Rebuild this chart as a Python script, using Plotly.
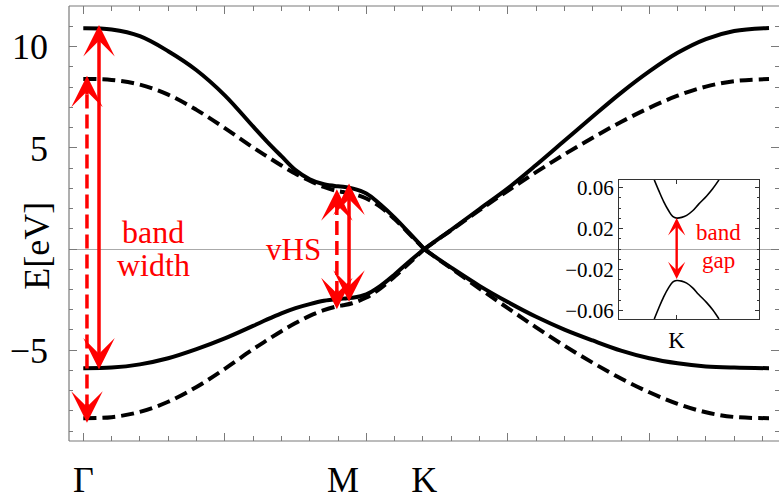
import plotly.graph_objects as go

# ---------------- data ----------------
# path coordinate: Gamma = 0, M = 0.918, K = 1.205, Gamma = 2.423
K_GK = [0, 0.1, 0.2, 0.3, 0.4, 0.5, 0.6, 0.65, 0.7, 0.75, 0.8, 0.85, 0.9, 0.918,
        0.95, 1.0, 1.05, 1.1, 1.15, 1.205]
SOLID_UP_GK = [10.91, 10.85, 10.52, 9.78, 8.84, 7.60, 6.06, 5.30, 4.59, 3.90, 3.45, 3.20,
               3.10, 3.08, 3.00, 2.75, 2.20, 1.55, 0.82, 0.0]
DASH_UP_GK = [8.41, 8.36, 8.13, 7.63, 6.88, 5.98, 5.02, 4.57, 4.13, 3.72, 3.38, 3.07,
              2.86, 2.82, 2.74, 2.50, 2.08, 1.48, 0.78, 0.0]
SOLID_LO_GK = [-5.89, -5.86, -5.70, -5.40, -4.95, -4.42, -3.80, -3.48, -3.18, -2.92, -2.72,
               -2.56, -2.47, -2.45, -2.41, -2.24, -1.82, -1.26, -0.64, 0.0]
DASH_LO_GK = [-8.36, -8.31, -8.05, -7.55, -6.82, -5.92, -4.95, -4.50, -4.06, -3.66, -3.30,
              -3.02, -2.82, -2.78, -2.68, -2.40, -1.94, -1.36, -0.72, 0.0]

K_KG = [1.205, 1.25, 1.3, 1.4, 1.5, 1.6, 1.7, 1.8, 1.9, 2.0, 2.1, 2.2, 2.3, 2.423]
SOLID_UP_KG = [0.0, 0.45, 0.95, 1.98, 3.00, 4.15, 5.35, 6.55, 7.72, 8.78, 9.70, 10.38, 10.78, 10.93]
DASH_UP_KG = [0.0, 0.45, 0.93, 1.92, 2.88, 3.80, 4.68, 5.50, 6.28, 6.98, 7.58, 8.03, 8.30, 8.40]
SOLID_LO_KG = [0.0, -0.45, -0.92, -1.82, -2.62, -3.35, -3.98, -4.52, -5.02, -5.40, -5.65,
               -5.80, -5.86, -5.89]
DASH_LO_KG = [0.0, -0.46, -0.95, -1.95, -2.92, -3.87, -4.78, -5.62, -6.40, -7.08, -7.65,
              -8.07, -8.30, -8.36]

# tick labels of the k path
PATH_TICKS = [0, 0.918, 1.205, 2.423]
PATH_LABELS = ["Γ", "M", "K", "Γ"]
E_TICKS = [-5, 0, 5, 10]
E_LABELS = ["−5", "", "5", "10"]

# inset (zoom around K)
INSET_K = [-0.224, -0.18, -0.13, -0.08, -0.04, 0.0, 0.05, 0.10, 0.16, 0.22, 0.30, 0.36, 0.423]
INSET_UP = [0.0677, 0.0575, 0.0465, 0.0375, 0.0320, 0.0303, 0.0310, 0.0330, 0.0375, 0.0440,
            0.0520, 0.0590, 0.0677]
INSET_LO = [-0.0685, -0.0580, -0.0468, -0.0378, -0.0324, -0.0308, -0.0314, -0.0334, -0.0380,
            -0.0445, -0.0525, -0.0595, -0.0685]
INSET_TICKS = [-0.06, -0.02, 0.02, 0.06]
INSET_LABELS = ["−0.06", "−0.02", "0.02", "0.06"]

# annotation arrows: (k, E_top, E_bottom)
BW_DASHED = (0.013, 8.57, -8.58)
BW_SOLID = (0.0555, 11.08, -6.03)
VHS_DASHED = (0.896, 2.96, -2.97)
VHS_SOLID = (0.939, 3.24, -2.68)
GAP_ARROW = (0.0, 0.0303, -0.0308)

FONT = "Liberation Serif"
RED = "#ff0000"
FRAME = "#7a7a7a"

fig = go.Figure()

def band(x, y, dashed):
    fig.add_trace(go.Scatter(
        x=x, y=y, mode="lines", line_shape="spline",
        line=dict(color="black", width=4, dash="13px,6px" if dashed else "solid"),
        showlegend=False, hoverinfo="skip"))

band(K_GK, DASH_UP_GK, True)
band(K_GK, DASH_LO_GK, True)
band(K_KG, DASH_UP_KG, True)
band(K_KG, DASH_LO_KG, True)
band(K_GK, SOLID_UP_GK, False)
band(K_GK, SOLID_LO_GK, False)
band(K_KG, SOLID_UP_KG, False)
band(K_KG, SOLID_LO_KG, False)

# dashed arrow shafts
for (xk, top, bot) in (BW_DASHED, VHS_DASHED):
    fig.add_trace(go.Scatter(
        x=[xk, xk], y=[bot + 0.7, top - 0.7], mode="lines",
        line=dict(color=RED, width=3.5, dash="14px,6px"),
        showlegend=False, hoverinfo="skip"))

# invisible trace so that the labelled k-path axis is drawn
fig.add_trace(go.Scatter(x=PATH_TICKS, y=[None] * len(PATH_TICKS), mode="markers",
                         xaxis="x2", yaxis="y", showlegend=False, hoverinfo="skip"))

# inset curves
fig.add_trace(go.Scatter(x=INSET_K, y=INSET_UP, mode="lines", line_shape="spline",
                         line=dict(color="black", width=1.6), xaxis="x3", yaxis="y3",
                         showlegend=False, hoverinfo="skip"))
fig.add_trace(go.Scatter(x=INSET_K, y=INSET_LO, mode="lines", line_shape="spline",
                         line=dict(color="black", width=1.6), xaxis="x3", yaxis="y3",
                         showlegend=False, hoverinfo="skip"))

annotations = []
# solid double arrows
for (xk, top, bot) in (BW_SOLID, VHS_SOLID):
    annotations.append(dict(
        x=xk, y=top, ax=xk, ay=bot, xref="x", yref="y", axref="x", ayref="y",
        text="", showarrow=True, arrowside="end+start", arrowhead=3, startarrowhead=3,
        arrowsize=1.5, startarrowsize=1.5, arrowwidth=3.5, arrowcolor=RED))
# heads of dashed arrows
for (xk, top, bot) in (BW_DASHED, VHS_DASHED):
    for tip, tail in ((top, top - 1.0), (bot, bot + 1.0)):
        annotations.append(dict(
            x=xk, y=tip, ax=xk, ay=tail, xref="x", yref="y", axref="x", ayref="y",
            text="", showarrow=True, arrowhead=3, arrowsize=1.5,
            arrowwidth=3.5, arrowcolor=RED))
# inset arrow
annotations.append(dict(
    x=GAP_ARROW[0], y=GAP_ARROW[1], ax=GAP_ARROW[0], ay=GAP_ARROW[2],
    xref="x3", yref="y3", axref="x3", ayref="y3",
    text="", showarrow=True, arrowside="end+start", arrowhead=3, startarrowhead=3,
    arrowsize=1.2, startarrowsize=1.2, arrowwidth=2.4, arrowcolor=RED))

def label(text, x, y, size, xref="x", yref="y", angle=0, color=RED):
    annotations.append(dict(text=text, x=x, y=y, xref=xref, yref=yref, showarrow=False,
                            textangle=angle, xanchor="center", yanchor="middle",
                            font=dict(family=FONT, size=size, color=color)))

label("band", 0.247, 0.85, 32)
label("width", 0.247, -0.80, 32)
label("vHS", 0.742, -0.02, 31)
label("band", 2.245, 0.80, 23)
label("gap", 2.245, -0.58, 23)
label("E[eV]", -0.045, 0.449, 36, xref="paper", yref="paper", angle=-90, color="black")

tickfont = dict(family=FONT, size=36, color="black")

fig.update_layout(
    width=779, height=500,
    margin=dict(l=69, r=0, t=6, b=53),
    paper_bgcolor="white", plot_bgcolor="rgba(0,0,0,0)",
    showlegend=False,
    annotations=annotations,
    xaxis=dict(range=[-0.0505, 2.4583], showgrid=False, zeroline=False,
               showline=False, showticklabels=False,
               tickmode="linear", tick0=0, dtick=0.5, ticks="inside", ticklen=8,
               tickcolor=FRAME, tickwidth=1, mirror="ticks",
               minor=dict(tickmode="linear", tick0=0, dtick=0.1, ticks="inside",
                          ticklen=5, tickcolor=FRAME, showgrid=False)),
    xaxis2=dict(range=[-0.0505, 2.4583], overlaying="x", anchor="y", side="bottom",
                showgrid=False, zeroline=False, showline=False,
                tickmode="array", tickvals=PATH_TICKS, ticktext=PATH_LABELS,
                ticks="", tickfont=tickfont, ticklabelstandoff=14),
    yaxis=dict(range=[-9.488, 12.014], showgrid=False,
               zeroline=True, zerolinecolor="#aaaaaa", zerolinewidth=1,
               showline=False,
               tickmode="array", tickvals=E_TICKS, ticktext=E_LABELS,
               ticks="inside", ticklen=8, tickcolor=FRAME, mirror="ticks",
               tickfont=tickfont, ticklabelstandoff=20,
               minor=dict(tickmode="linear", tick0=0, dtick=1, ticks="inside",
                          ticklen=4, tickcolor=FRAME, showgrid=False)),
    xaxis3=dict(domain=[0.7746, 0.9718], anchor="y3", range=[-0.577, 0.823],
                showgrid=False, zeroline=False, showline=True, linecolor="#333333",
                linewidth=1, mirror="ticks", ticks="inside", ticklen=4,
                tickcolor="#333333", tickmode="array", tickvals=[0], ticktext=["K"],
                tickfont=dict(family=FONT, size=23, color="black")),
    yaxis3=dict(domain=[0.2805, 0.6002], anchor="x3", range=[-0.0685, 0.0677],
                showgrid=False, zeroline=True, zerolinecolor="#aaaaaa", zerolinewidth=1,
                showline=True, linecolor="#333333", linewidth=1, mirror="ticks",
                ticks="inside", ticklen=4, tickcolor="#333333",
                tickmode="array", tickvals=INSET_TICKS, ticktext=INSET_LABELS,
                tickfont=dict(family=FONT, size=21, color="black"),
                minor=dict(tickmode="linear", tick0=0, dtick=0.01, ticks="inside",
                           ticklen=2, tickcolor="#333333", showgrid=False)),
    shapes=[
        dict(type="line", xref="paper", yref="paper", x0=0, x1=0, y0=0, y1=1,
             line=dict(color=FRAME, width=1.2), layer="above"),
        dict(type="line", xref="paper", yref="paper", x0=0, x1=1.01, y0=0, y1=0,
             line=dict(color=FRAME, width=1.2), layer="above"),
        dict(type="line", xref="paper", yref="paper", x0=0, x1=1.01, y0=1, y1=1,
             line=dict(color=FRAME, width=1.2), layer="above"),
    ],
)

fig.write_html("out.html")
